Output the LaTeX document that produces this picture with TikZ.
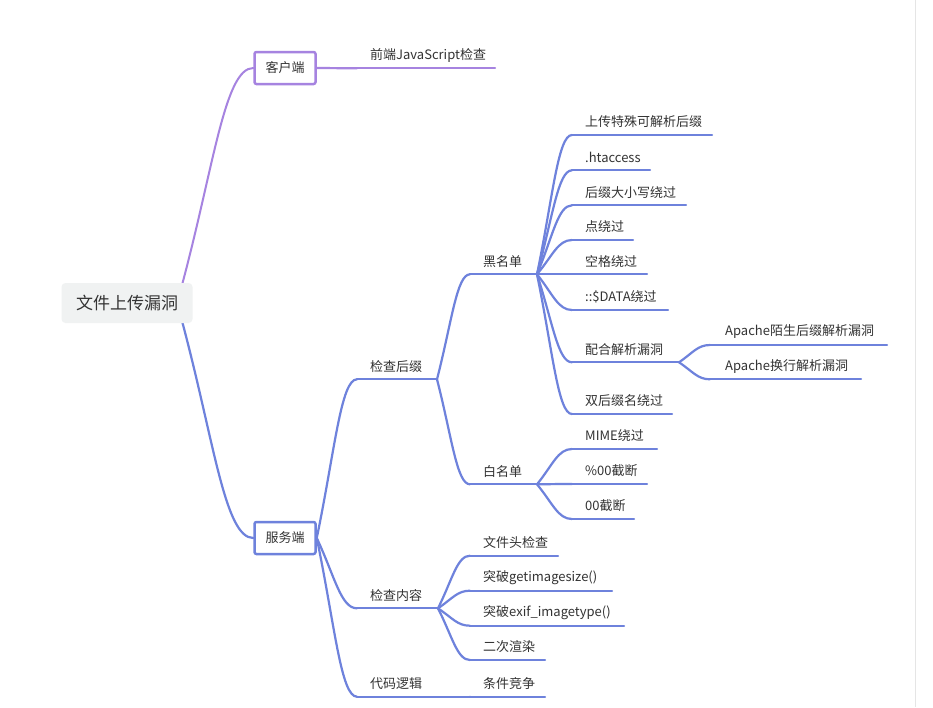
\documentclass[tikz,border=0pt]{standalone}
\usepackage{fontspec}
\setmainfont{Noto Sans CJK SC}
\usetikzlibrary{calc,backgrounds}
\definecolor{purp}{HTML}{A683E0}
\definecolor{blu}{HTML}{6E82DC}
\definecolor{txt}{HTML}{333333}
\definecolor{rootbg}{HTML}{F0F2F2}
\tikzset{
 branch/.style={to path={let \p1=(\tikztostart), \p2=(\tikztotarget) in .. controls ({\x1+0.45*(\x2-\x1)},{\y1+0.55*(\y2-\y1)}) and ({\x1+0.6*(\x2-\x1)},\y2) .. (\tikztotarget)}},
 lbl/.style={anchor=west, inner sep=0pt, text=txt, font=\fontsize{13}{15}\selectfont},
 wire/.style={line width=2.2pt, line cap=round},
 mmbox/.style={draw, line width=2.5pt, fill=white, rounded corners=2pt, minimum width=61pt, minimum height=32pt, text=txt, font=\fontsize{13}{15}\selectfont},
}
\newcommand\mmtopic[7][13]{%
 \coordinate (#2-s) at (#3,#5);
 \coordinate (#2-e) at (#4,#5);
 \node[lbl] (#2) at (#3+#1,#5-13) {#6};
 \draw[wire,#7] (#2-s) -- (#2-e);
}
\begin{document}
\begin{tikzpicture}[x=1pt,y=-1pt]
\useasboundingbox (0,0) rectangle (933,707);
% nodes
\node[fill=rootbg, rounded corners=4pt, minimum width=131pt, minimum height=40pt, inner sep=0pt, text=txt, font=\fontsize{17}{20}\selectfont] (root) at (127,303) {文件上传漏洞};
\coordinate (rootU) at (182,285);
\coordinate (rootD) at (182,321);
\node[mmbox, draw=purp] (kh) at (285,68) {客户端};
\node[mmbox, draw=blu] (fw) at (285,538) {服务端};
\mmtopic{qd}{357}{495}{68.3}{前端JavaScript检查}{purp}
\mmtopic{hz}{357}{437}{379.3}{检查后缀}{blu}
\mmtopic{nr}{357}{438}{608.3}{检查内容}{blu}
\mmtopic{lj}{357}{470}{696.7}{代码逻辑}{blu}
\mmtopic{jz}{470}{545}{696.7}{条件竞争}{blu}
\mmtopic{hm}{470}{537}{274.3}{黑名单}{blu}
\mmtopic{bm}{470}{537}{484.3}{白名单}{blu}
\mmtopic{b1}{572}{712}{135}{上传特殊可解析后缀}{blu}
\mmtopic{b2}{572}{650}{170.3}{.htaccess}{blu}
\mmtopic{b3}{572}{686}{205.3}{后缀大小写绕过}{blu}
\mmtopic{b4}{572}{633}{240}{点绕过}{blu}
\mmtopic{b5}{572}{647}{274.3}{空格绕过}{blu}
\mmtopic{b6}{572}{668}{310}{::\$DATA绕过}{blu}
\mmtopic{b7}{572}{679}{362.3}{配合解析漏洞}{blu}
\mmtopic{b8}{572}{672}{414}{双后缀名绕过}{blu}
\mmtopic[15]{a1}{710}{887}{345}{Apache陌生后缀解析漏洞}{blu}
\mmtopic[15]{a2}{710}{861}{379.3}{Apache换行解析漏洞}{blu}
\mmtopic{w1}{572}{657}{449}{MIME绕过}{blu}
\mmtopic{w2}{572}{647}{484}{\%00截断}{blu}
\mmtopic{w3}{572}{634}{519}{00截断}{blu}
\mmtopic{n1}{470}{558}{555.7}{文件头检查}{blu}
\mmtopic{n2}{470}{612}{590.7}{突破getimagesize()}{blu}
\mmtopic{n3}{470}{624}{625.7}{突破exif\_imagetype()}{blu}
\mmtopic{n4}{470}{545}{660}{二次渲染}{blu}
% connectors
\begin{pgfonlayer}{background}
\fill[white] (0,0) rectangle (933,707);
\draw[gray!20, line width=1pt] (915,0) -- (915,707);
\draw[wire, line width=2pt, purp] (rootU) to[branch] (kh.west);
\draw[wire, blu] (rootD) to[branch] (fw.west);
\draw[wire, purp] (kh.east) -- (qd-s);
\foreach \c in {hz,nr,lj} \draw[wire, blu] (fw.east) to[branch] (\c-s);
\foreach \c in {hm,bm} \draw[wire, blu] (hz-e) to[branch] (\c-s);
\foreach \c in {b1,b2,b3,b4,b5,b6,b7,b8} \draw[wire, blu] (hm-e) to[branch] (\c-s);
\foreach \c in {a1,a2} \draw[wire, blu] (b7-e) to[branch] (\c-s);
\foreach \c in {w1,w2,w3} \draw[wire, blu] (bm-e) to[branch] (\c-s);
\foreach \c in {n1,n2,n3,n4} \draw[wire, blu] (nr-e) to[branch] (\c-s);
\draw[wire, blu] (lj-e) -- (jz-s);
\end{pgfonlayer}
\end{tikzpicture}
\end{document}
